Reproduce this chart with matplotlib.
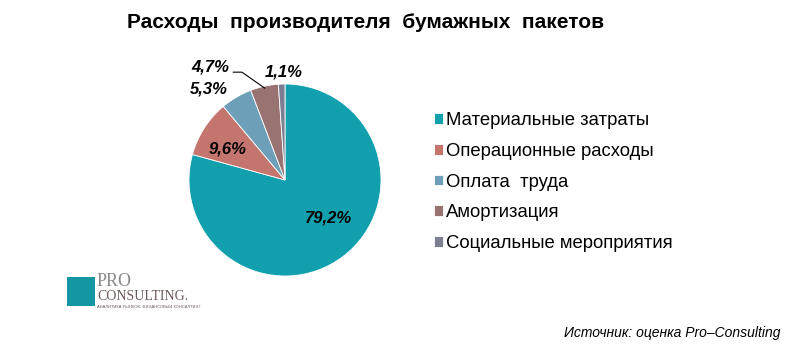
import numpy as np
import matplotlib
matplotlib.use('Agg')
import matplotlib.pyplot as plt
from matplotlib.patches import Rectangle

plt.rcParams['font.family'] = ['Liberation Sans', 'DejaVu Sans']

# data
categories = ['Материальные затраты', 'Операционные расходы', 'Оплата  труда',
              'Амортизация', 'Социальные мероприятия']
shares = [79.2, 9.6, 5.3, 4.7, 1.1]
pct_labels = ['79,2%', '9,6%', '5,3%', '4,7%', '1,1%']

colors = ['#12A0AF', '#C4766E', '#6E9FB8', '#997272', '#7C7F92']
# label placement (radius factor, angle shift in deg); None -> leader line
label_pos = [(0.60, 11), (0.68, 4.5), (1.24, 9.5), None, (1.13, -1.3)]

fig = plt.figure(figsize=(7.99, 3.51), dpi=100)
fig.patch.set_facecolor('white')

# pie axes: center ~ (285,180)px, radius ~95px
cx, cy, r = 285, 351 - 180, 96
ax = fig.add_axes([(cx - r) / 799, (cy - r) / 351, 2 * r / 799, 2 * r / 351])
wedges, _ = ax.pie(shares, colors=colors, startangle=90, counterclock=False,
                   radius=1.0, wedgeprops=dict(linewidth=0.6, edgecolor='white'))
ax.set_xlim(-1, 1)
ax.set_ylim(-1, 1)
ax.set_aspect('equal')
ax.axis('off')

lbl_style = dict(fontsize=12, fontweight='bold', fontstyle='italic', clip_on=False)
for i, w in enumerate(wedges):
    mid = np.deg2rad((w.theta1 + w.theta2) / 2.0)
    if label_pos[i] is None:
        # leader line: slice edge -> diagonal -> short horizontal
        ex, ey = 0.98 * np.cos(mid), 0.98 * np.sin(mid)
        kx, ky = ex + 0.29 * np.cos(np.deg2rad(145)), ey + 0.29 * np.sin(np.deg2rad(145))
        sx, sy = kx - 0.09, ky
        ax.plot([sx, kx, ex], [sy, ky, ey], color='black', lw=0.8, clip_on=False)
        ax.text(sx - 0.04, sy + 0.05, pct_labels[i], ha='right', va='center', **lbl_style)
        continue
    rf, shift = label_pos[i]
    a = mid + np.deg2rad(shift)
    ax.text(rf * np.cos(a), rf * np.sin(a), pct_labels[i], ha='center',
            va='center', **lbl_style)

fig.text(0.457, 0.935, 'Расходы  производителя  бумажных  пакетов',
         ha='center', va='center', fontsize=15, fontweight='bold')

# legend
leg = fig.legend(wedges, categories, loc='upper left',
                 bbox_to_anchor=(425 / 799, 1 - 103 / 351), frameon=False,
                 fontsize=13.3, handlelength=0.5, handleheight=0.5,
                 handletextpad=0.15, labelspacing=0.74, borderpad=0)

# logo
fig.patches.append(Rectangle((67 / 799, 1 - 306 / 351), 28 / 799, 29 / 351,
                             transform=fig.transFigure, facecolor='#1497A3',
                             edgecolor='none'))
fig.text(97 / 799, 1 - 282 / 351, 'PRO', fontsize=13, family='Liberation Serif',
         color='#8A8A8A', va='center')
fig.text(97 / 799, 1 - 296 / 351, 'CONSULTING.', fontsize=10,
         family='Liberation Serif', color='#6A5A5A', va='center')
fig.text(97 / 799, 1 - 306.5 / 351, 'АНАЛИТИКА РЫНКОВ. ФИНАНСОВЫЙ КОНСАЛТИНГ',
         fontsize=2.9, color='#6A5A5A', va='center')

fig.text(780 / 799, 1 - 333 / 351, 'Источник: оценка Pro–Consulting',
         ha='right', va='center', fontsize=10, fontstyle='italic')

fig.savefig('out.png', dpi=100)
